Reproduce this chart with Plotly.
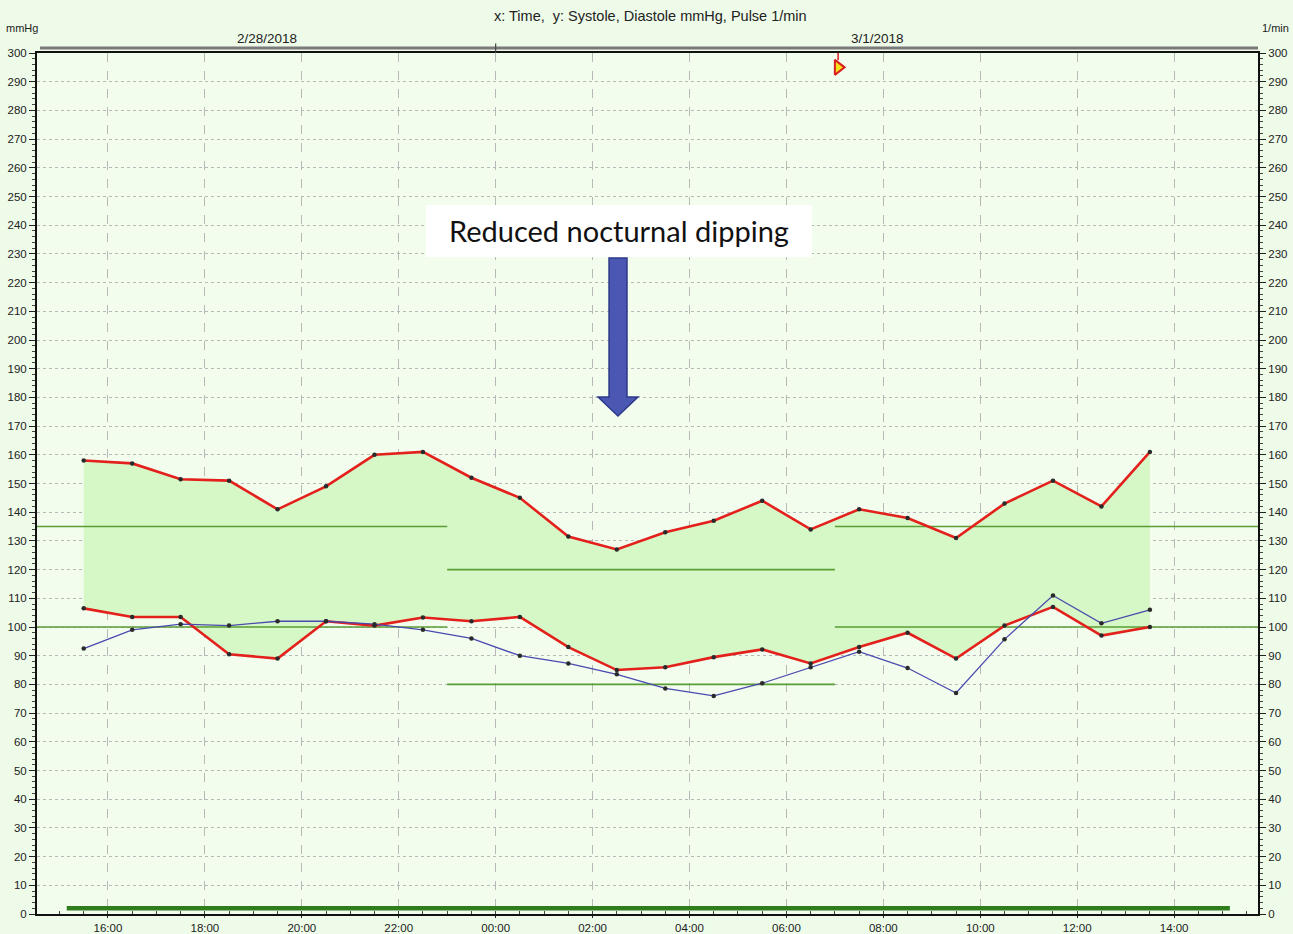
import plotly.graph_objects as go

# ---- data ----
times = ["2018-02-28 15:30", "2018-02-28 16:30", "2018-02-28 17:30", "2018-02-28 18:30",
         "2018-02-28 19:30", "2018-02-28 20:30", "2018-02-28 21:30", "2018-02-28 22:30",
         "2018-02-28 23:30", "2018-03-01 00:30", "2018-03-01 01:30", "2018-03-01 02:30",
         "2018-03-01 03:30", "2018-03-01 04:30", "2018-03-01 05:30", "2018-03-01 06:30",
         "2018-03-01 07:30", "2018-03-01 08:30", "2018-03-01 09:30", "2018-03-01 10:30",
         "2018-03-01 11:30", "2018-03-01 12:30", "2018-03-01 13:30"]
systole = [158, 157, 151.5, 151, 141, 149, 160, 161, 152, 145, 131.5, 127,
           133, 137, 144, 134, 141, 138, 131, 143, 151, 142, 161]
diastole = [106.5, 103.5, 103.5, 90.5, 89, 102, 100.5, 103.3, 102, 103.5, 93, 85,
            86, 89.5, 92.2, 87.3, 93, 98, 89, 100.5, 107, 97, 100]
pulse = [92.5, 99, 101, 100.5, 102, 102, 101, 99, 96, 90, 87.3, 83.5,
         78.6, 76, 80.4, 86, 91.4, 85.7, 77, 95.7, 111, 101.3, 106]

# limit periods (day / night / day) and limit values
limit_periods = [("2018-02-28 14:30", "2018-02-28 23:00"),
                 ("2018-02-28 23:00", "2018-03-01 07:00"),
                 ("2018-03-01 07:00", "2018-03-01 15:45")]
sys_limits = [135, 120, 135]
dia_limits = [100, 80, 100]

period_bar = ["2018-02-28 15:09", "2018-03-01 15:09"]
period_level = 2
event_time = "2018-03-01 07:04"
event_level = 295

x_range = ["2018-02-28 14:32:10", "2018-03-01 15:43:50"]

RED = "#e3201b"
BLUE = "#4a4aae"
LIM = "#5a9e34"
FILL = "#d6f7c6"
MARK = "#2a2a2a"

fig = go.Figure()

# diastole then systole with fill between
fig.add_trace(go.Scatter(x=times, y=diastole, mode="lines", line=dict(color="rgba(0,0,0,0)", width=0),
                         hoverinfo="skip"))
fig.add_trace(go.Scatter(x=times, y=systole, mode="lines", fill="tonexty", fillcolor=FILL,
                         line=dict(color="rgba(0,0,0,0)", width=0), hoverinfo="skip"))
# limit lines above fill
for (a, b), s, d in zip(limit_periods, sys_limits, dia_limits):
    fig.add_trace(go.Scatter(x=[a, b], y=[s, s], mode="lines",
                             line=dict(color=LIM, width=1.6), hoverinfo="skip"))
    fig.add_trace(go.Scatter(x=[a, b], y=[d, d], mode="lines",
                             line=dict(color=LIM, width=1.6), hoverinfo="skip"))

# pulse (right axis)
fig.add_trace(go.Scatter(x=times, y=pulse, mode="lines+markers", yaxis="y2",
                         line=dict(color=BLUE, width=1.3),
                         marker=dict(color=MARK, size=4.5), name="Pulse"))
# systole / diastole lines
fig.add_trace(go.Scatter(x=times, y=diastole, mode="lines+markers",
                         line=dict(color=RED, width=2.6),
                         marker=dict(color=MARK, size=4.5), name="Diastole"))
fig.add_trace(go.Scatter(x=times, y=systole, mode="lines+markers",
                         line=dict(color=RED, width=2.6),
                         marker=dict(color=MARK, size=4.5), name="Systole"))

# measurement period bar
fig.add_trace(go.Scatter(x=period_bar, y=[period_level, period_level], mode="lines",
                         line=dict(color="#2f7d1c", width=4.5), hoverinfo="skip"))

# event marker
fig.add_trace(go.Scatter(x=[event_time], y=[event_level], mode="markers",
                         marker=dict(symbol="triangle-right", size=13, color="#f5e21a",
                                     line=dict(color="#d81e1e", width=2)),
                         hoverinfo="skip"))

shapes = []
# small red tick above event marker
shapes.append(dict(type="line", xref="x", yref="y", x0=event_time, x1=event_time,
                   y0=297.5, y1=300, line=dict(color="#d81e1e", width=1.5)))

# date header bar
shapes.append(dict(type="line", xref="paper", yref="paper", x0=0.0025, x1=1.0,
                   y0=1.0058, y1=1.0058, line=dict(color="#7a7a7a", width=3)))
shapes.append(dict(type="line", xref="x", yref="paper", x0="2018-03-01 00:00", x1="2018-03-01 00:00",
                   y0=1.0, y1=1.011, line=dict(color="#444", width=1.2)))

# annotation box
shapes.append(dict(type="rect", xref="paper", yref="paper", x0=0.3186, x1=0.6347,
                   y0=0.7631, y1=0.8235, fillcolor="white", line=dict(width=0), layer="above"))
# block arrow
ax = [0.4685, 0.4832, 0.4922, 0.4758, 0.4595]
ay = [0.7619, 0.6005, 0.5784]
path = (f"M {ax[0]},{ay[0]} L {ax[1]},{ay[0]} L {ax[1]},{ay[1]} L {ax[2]},{ay[1]} "
        f"L {ax[3]},{ay[2]} L {ax[4]},{ay[1]} L {ax[0]},{ay[1]} Z")
shapes.append(dict(type="path", xref="paper", yref="paper", path=path,
                   fillcolor="#4a58b4", line=dict(color="#2c3888", width=1.5), layer="above"))

def note(text, x, y, size, family="Arial", color="#222", yanchor="middle"):
    return dict(text=text, xref="paper", yref="paper", x=x, y=y, xanchor="center",
                yanchor=yanchor, showarrow=False, font=dict(family=family, size=size, color=color))

annotations = [
    note("x: Time,  y: Systole, Diastole mmHg, Pulse 1/min", 0.5025, 1.0430, 14.5),
    note("mmHg", -0.0125, 1.0290, 11),
    note("1/min", 1.0143, 1.0290, 11),
    note("2/28/2018", 0.1884, 1.0062, 13.5, yanchor="bottom"),
    note("3/1/2018", 0.6880, 1.0062, 13.5, yanchor="bottom"),
    note("Reduced nocturnal dipping", 0.4766, 0.7933, 29, family="Lato", color="#111"),
]

yticks = dict(range=[0, 300], dtick=10, tick0=0, ticks="outside", ticklen=6, tickwidth=1,
              tickcolor="#222", tickfont=dict(family="Arial", size=11.5, color="#222"),
              showline=True, linecolor="#111", linewidth=2, zeroline=False, automargin=False,
              minor=dict(dtick=2, ticks="outside", ticklen=3, tickcolor="#444", showgrid=False))

fig.update_layout(
    width=1293, height=934,
    margin=dict(l=37, r=35, t=53, b=20, autoexpand=False),
    paper_bgcolor="#eefbe9", plot_bgcolor="#f2fdee",
    showlegend=False,
    xaxis=dict(type="date", range=x_range, tickformat="%H:%M", dtick=7200000,
               tick0="2018-02-28 16:00", ticks="outside", ticklen=2, tickcolor="#222",
               tickfont=dict(family="Arial", size=11.5, color="#222"), automargin=False,
               showgrid=True, gridcolor="#b8b8b8", griddash="dash", gridwidth=1,
               showline=True, linecolor="#111", linewidth=2, mirror=True, zeroline=False,
               minor=dict(dtick=1800000, ticks="inside", ticklen=3, tickcolor="#444", showgrid=False)),
    yaxis=dict(showgrid=True, gridcolor="#b8b8b8", griddash="dot", gridwidth=1, **yticks),
    yaxis2=dict(overlaying="y", side="right", showgrid=False, **yticks),
    shapes=shapes,
    annotations=annotations,
)

fig.write_html("out.html", config={"displayModeBar": False},
               post_script="document.body.style.margin='0';document.body.style.overflow='hidden';")
